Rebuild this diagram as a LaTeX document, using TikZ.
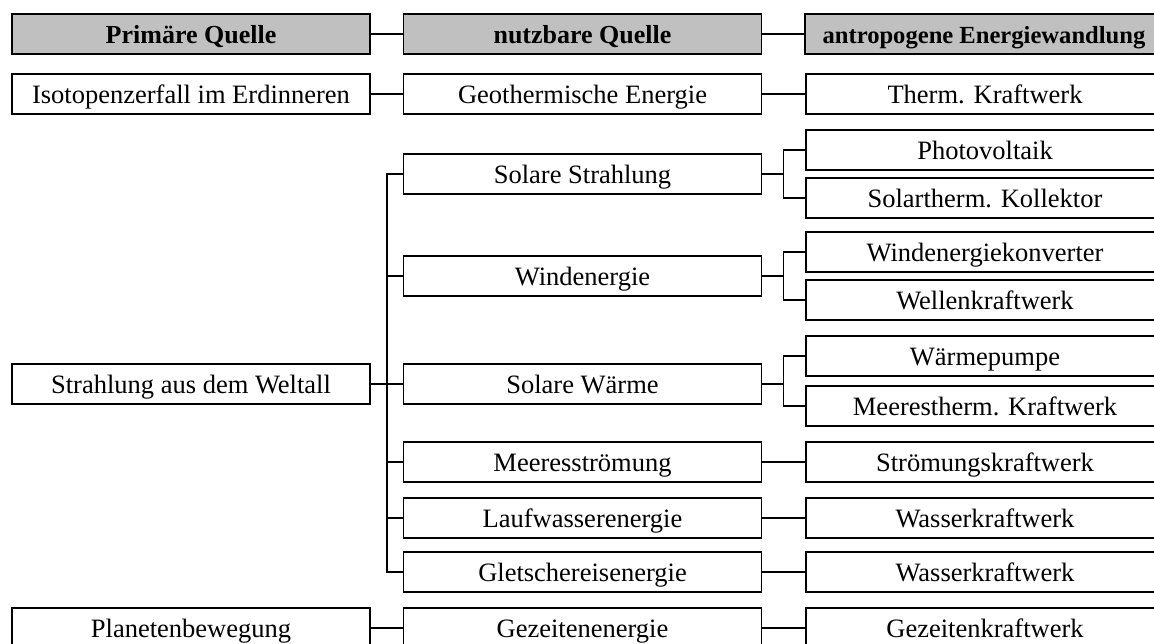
\documentclass[tikz,border=0pt]{standalone}
\usepackage{fontspec}
\setmainfont{Liberation Serif}
\definecolor{headgray}{HTML}{C0C0C0}
\begin{document}
\begin{tikzpicture}[x=1pt,y=-1pt,
  box/.style={draw=black, line width=1.3pt, fill=white,
    minimum width=358pt, minimum height=40pt, inner sep=0pt,
    text height=18.5pt, text depth=0pt,
    font=\fontsize{26.5}{30}\selectfont},
  head/.style={box, fill=headgray, font=\fontsize{26}{30}\selectfont\bfseries},
  link/.style={line width=1.5pt}]
\useasboundingbox (0,0) rectangle (1154,644);
\clip (0,0) rectangle (1154,644);

% column heads
\node[head] (h1) at (191,34)   {Primäre Quelle};
\node[head] (h2) at (582.5,34) {nutzbare Quelle};
\node[head, font=\fontsize{24.6}{30}\selectfont\bfseries, xshift=-1pt] (h3) at (985,34)
  {antropogene Energiewandlung};

% primary sources
\node[box] (p1) at (191,94)  {Isotopenzerfall im Erdinneren};
\node[box] (p2) at (191,384) {Strahlung aus dem Weltall};
\node[box] (p3) at (191,628) {Planetenbewegung};

% usable sources
\node[box] (n1) at (582.5,94)  {Geothermische Energie};
\node[box] (n2) at (582.5,174) {Solare Strahlung};
\node[box] (n3) at (582.5,276) {Windenergie};
\node[box] (n4) at (582.5,384) {Solare Wärme};
\node[box] (n5) at (582.5,462) {Meeresströmung};
\node[box] (n6) at (582.5,518) {Laufwasserenergie};
\node[box] (n7) at (582.5,572) {Gletschereisenergie};
\node[box] (n8) at (582.5,628) {Gezeitenenergie};

% conversion plants
\node[box] (a1)  at (985,94)  {Therm. Kraftwerk};
\node[box] (a2)  at (985,150) {Photovoltaik};
\node[box] (a3)  at (985,198) {Solartherm. Kollektor};
\node[box] (a4)  at (985,252) {Windenergiekonverter};
\node[box] (a5)  at (985,300) {Wellenkraftwerk};
\node[box] (a6)  at (985,356) {Wärmepumpe};
\node[box] (a7)  at (985,406) {Meerestherm. Kraftwerk};
\node[box] (a8)  at (985,462) {Strömungskraftwerk};
\node[box] (a9)  at (985,518) {Wasserkraftwerk};
\node[box] (a10) at (985,572) {Wasserkraftwerk};
\node[box] (a11) at (985,628) {Gezeitenkraftwerk};

% x positions of the vertical bus lines
\coordinate (trunk) at (387,0);
\coordinate (fork)  at (783.5,0);

% straight links
\draw[link] (h1.east) -- (h2.west);
\draw[link] (h2.east) -- (h3.west);
\draw[link] (p1.east) -- (n1.west);
\draw[link] (n1.east) -- (a1.west);
\draw[link] (p3.east) -- (n8.west);
\draw[link] (n8.east) -- (a11.west);
\draw[link] (n5.east) -- (a8.west);
\draw[link] (n6.east) -- (a9.west);
\draw[link] (n7.east) -- (a10.west);

% radiation bus
\draw[link] (p2.east) -- (p2.east -| trunk);
\draw[link] (n2.west) -- (n2.west -| trunk) -- (n7.west -| trunk) -- (n7.west);
\foreach \n in {n3,n4,n5,n6}
  \draw[link] (\n.west -| trunk) -- (\n.west);

% forks to pairs of plants
\foreach \s/\u/\l in {n2/a2/a3, n3/a4/a5, n4/a6/a7} {
  \draw[link] (\s.east) -- (\s.east -| fork);
  \draw[link] (\u.west) -- (\u.west -| fork) -- (\l.west -| fork) -- (\l.west);
}
\end{tikzpicture}
\end{document}
